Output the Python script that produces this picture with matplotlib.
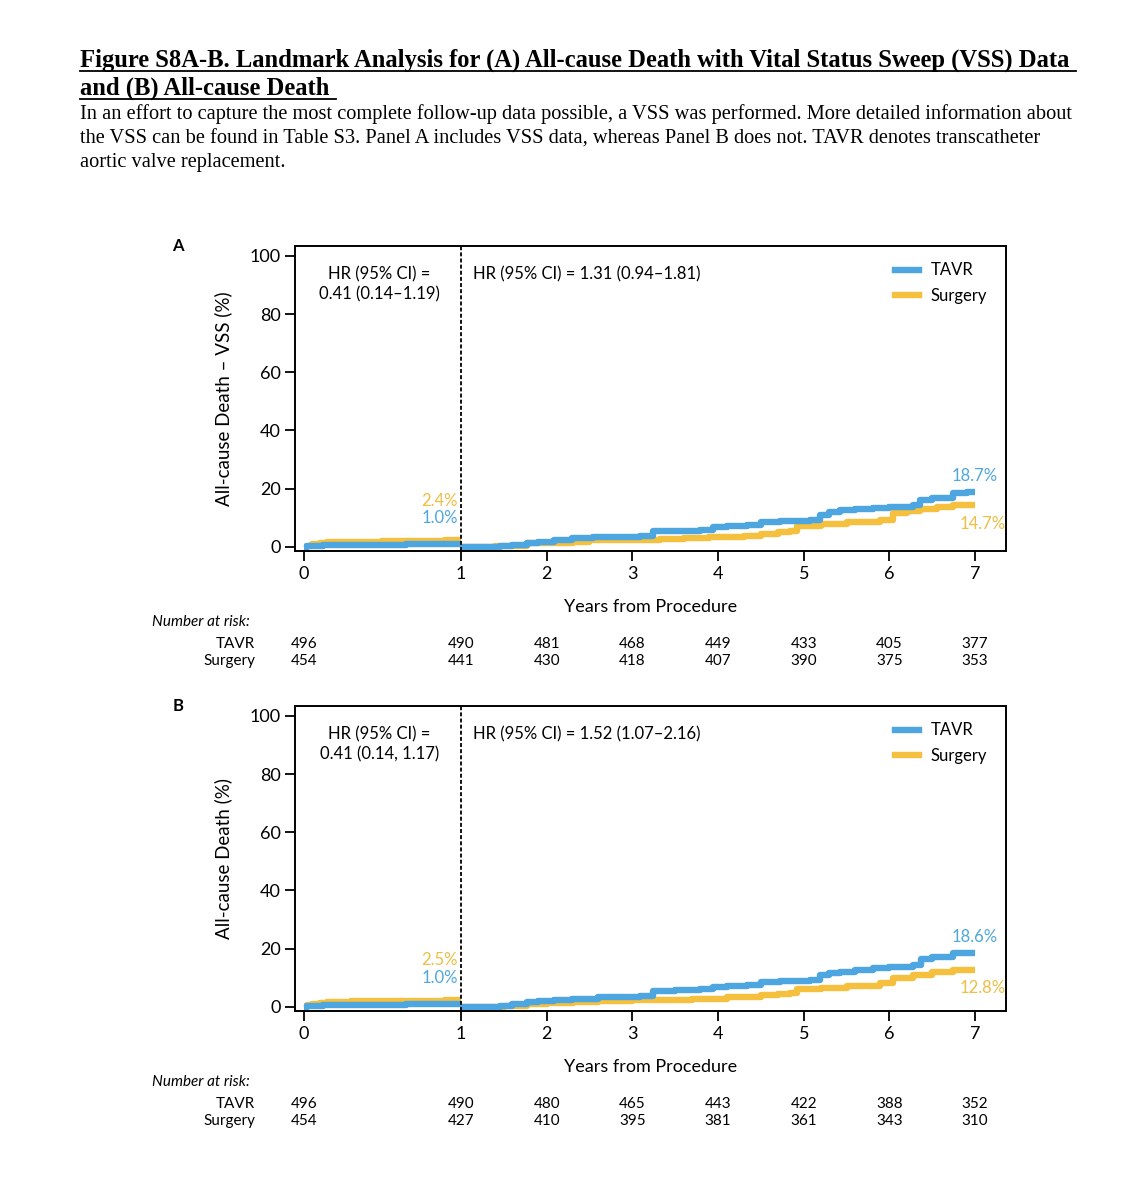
import numpy as np
import matplotlib
matplotlib.use("Agg")
import matplotlib.pyplot as plt
from matplotlib.lines import Line2D
import matplotlib.transforms as mtransforms

# ---------------- data ----------------
years = [0, 1, 2, 3, 4, 5, 6, 7]
yticks = [0, 20, 40, 60, 80, 100]

# Panel A (with VSS)
a_tavr_t1 = [0, 0.02, 0.05, 0.12, 0.25, 0.45, 0.65, 0.85, 0.95, 1.0]
a_tavr_y1 = [0, 0.2, 0.4, 0.5, 0.6, 0.7, 0.8, 0.9, 1.0, 1.0]
a_surg_t1 = [0, 0.02, 0.05, 0.1, 0.15, 0.3, 0.5, 0.7, 0.9, 0.97, 1.0]
a_surg_y1 = [0, 0.4, 0.9, 1.3, 1.6, 1.8, 1.9, 2.0, 2.2, 2.4, 2.4]
a_tavr_t2 = [1.0, 1.45, 1.6, 1.77, 1.9, 2.08, 2.3, 2.54, 2.8, 3.09, 3.24, 3.5, 3.79, 3.94, 4.1,
             4.34, 4.5, 4.72, 5.07, 5.19, 5.3, 5.42, 5.6, 5.81, 6.0, 6.27, 6.36, 6.5, 6.74, 6.9, 7.0]
a_tavr_y2 = [0, 0.3, 0.7, 1.2, 1.8, 2.4, 2.9, 3.3, 3.4, 3.6, 5.3, 5.5, 5.8, 6.8, 7.0,
             7.6, 8.5, 9.0, 9.3, 11.0, 11.8, 12.5, 13.0, 13.3, 13.8, 14.4, 16.1, 16.8, 18.5, 18.7, 18.7]
a_surg_t2 = [1.0, 1.4, 1.77, 2.0, 2.31, 2.5, 2.8, 3.32, 3.6, 3.9, 4.1, 4.3, 4.5, 4.7, 4.84,
             4.92, 5.2, 5.5, 5.89, 6.04, 6.2, 6.36, 6.55, 6.74, 7.0]
a_surg_y2 = [0, 0.3, 1.2, 1.4, 1.5, 2.2, 2.4, 2.6, 3.0, 3.3, 3.4, 3.6, 4.5, 5.0, 5.3,
             7.2, 7.8, 8.5, 9.3, 11.6, 12.2, 13.0, 13.8, 14.4, 14.5]

# Panel B (without VSS)
b_tavr_t1 = [0, 0.02, 0.05, 0.12, 0.25, 0.45, 0.65, 0.85, 0.95, 1.0]
b_tavr_y1 = [0, 0.2, 0.4, 0.5, 0.6, 0.7, 0.8, 0.9, 1.0, 1.0]
b_surg_t1 = [0, 0.02, 0.05, 0.1, 0.15, 0.3, 0.5, 0.7, 0.9, 0.97, 1.0]
b_surg_y1 = [0, 0.5, 1.0, 1.4, 1.7, 1.9, 2.0, 2.1, 2.3, 2.5, 2.5]
b_tavr_t2 = [1.0, 1.45, 1.6, 1.77, 1.9, 2.08, 2.3, 2.6, 2.85, 3.09, 3.24, 3.5, 3.79, 3.94, 4.1,
             4.34, 4.5, 4.72, 5.07, 5.19, 5.3, 5.42, 5.6, 5.81, 6.0, 6.27, 6.37, 6.5, 6.74, 6.9, 7.0]
b_tavr_y2 = [0, 0.3, 0.8, 1.5, 2.0, 2.4, 2.8, 3.3, 3.5, 3.8, 5.3, 5.6, 6.1, 6.8, 7.0,
             7.6, 8.4, 9.0, 9.3, 11.0, 11.6, 12.1, 12.8, 13.3, 13.8, 14.4, 16.4, 17.0, 18.4, 18.6, 18.6]
b_surg_t2 = [1.0, 1.5, 1.77, 2.0, 2.31, 2.6, 3.0, 3.32, 3.7, 4.1, 4.3, 4.5, 4.7, 4.84, 4.92,
             5.2, 5.5, 5.89, 6.04, 6.27, 6.5, 6.74, 7.0]
b_surg_y2 = [0, 0.3, 1.0, 1.3, 1.8, 2.0, 2.2, 2.4, 2.8, 3.3, 3.5, 4.1, 4.4, 4.7, 6.1,
             6.6, 7.2, 8.1, 9.9, 11.0, 11.8, 12.7, 12.8]

a_risk_tavr = [496, 490, 481, 468, 449, 433, 405, 377]
a_risk_surg = [454, 441, 430, 418, 407, 390, 375, 353]
b_risk_tavr = [496, 490, 480, 465, 443, 422, 388, 352]
b_risk_surg = [454, 427, 410, 395, 381, 361, 343, 310]

a_hr1 = "HR (95% CI) =\n0.41 (0.14–1.19)"
a_hr2 = "HR (95% CI) = 1.31 (0.94–1.81)"
b_hr1 = "HR (95% CI) =\n0.41 (0.14, 1.17)"
b_hr2 = "HR (95% CI) = 1.52 (1.07–2.16)"
a_lbl = ("2.4%", "1.0%", "18.7%", "14.7%")
b_lbl = ("2.5%", "1.0%", "18.6%", "12.8%")

title1 = "Figure S8A-B. Landmark Analysis for (A) All-cause Death with Vital Status Sweep (VSS) Data "
title2 = "and (B) All-cause Death "
body = ["In an effort to capture the most complete follow-up data possible, a VSS was performed. More detailed information about",
        "the VSS can be found in Table S3. Panel A includes VSS data, whereas Panel B does not. TAVR denotes transcatheter",
        "aortic valve replacement."]

BLUE = "#4DA6DF"
YELLOW = "#F4C03E"
BLUE_T = "#4FA7DC"
YELLOW_T = "#EEBE45"
SANS = ["Lato", "DejaVu Sans"]
SERIF = ["Liberation Serif", "DejaVu Serif"]

W, H = 1145, 1200
fig = plt.figure(figsize=(W / 100, H / 100), dpi=100)
fig.patch.set_facecolor("white")

K = 157.0 / 85.7


def fwd(x):
    x = np.asarray(x, dtype=float)
    return np.where(x < 1, x * K, K + (x - 1))


def inv(u):
    u = np.asarray(u, dtype=float)
    return np.where(u < K, u / K, 1 + (u - K))


def fy(py):
    return 1 - py / H


renderer = fig.canvas.get_renderer()


def fit_text(x, y, s, target_w, start, **kw):
    t = fig.text(x, y, s, fontsize=start, **kw)
    w = t.get_window_extent(renderer).width
    t.set_fontsize(start * target_w / w)
    return t


# ---------- title and caption ----------
t1 = fit_text(80 / W, fy(66.7), title1.rstrip(), 992, 15.5, family=SERIF,
              weight="bold", va="baseline", ha="left")
fs_title = t1.get_fontsize()
t1.set_text(title1)
t2 = fig.text(80 / W, fy(94.3), title2, fontsize=fs_title, family=SERIF,
              weight="bold", va="baseline", ha="left")
for t, uy in ((t1, 71), (t2, 99)):
    bb = t.get_window_extent(renderer)
    fig.add_artist(Line2D([bb.x0 / W, bb.x1 / W], [fy(uy), fy(uy)], color="black",
                          lw=1.3, transform=fig.transFigure))

b0 = fit_text(80 / W, fy(119.3), body[0], 993, 13.5, family=SERIF, va="baseline", ha="left")
fs_body = b0.get_fontsize()
for i, by in ((1, 143.3), (2, 166.7)):
    fig.text(80 / W, fy(by), body[i], fontsize=fs_body, family=SERIF, va="baseline", ha="left")


def panel(top_px, letter, ylabel, tv1, sv1, tv2, sv2, hr1, hr2, lbl, risk_t, risk_s):
    bot_px = top_px + 305
    ax = fig.add_axes([295 / W, fy(bot_px), (1006 - 295) / W, 305 / H])
    ax.set_xscale("function", functions=(fwd, inv))
    ax.set_xlim(-0.057, 7.36)
    ax.set_ylim(-1.45, 103.4)
    ax.set_xticks(years)
    ax.set_xticklabels([str(v) for v in years], family=SANS, fontsize=13)
    ax.set_yticks(yticks)
    ax.set_yticklabels([str(v) for v in yticks], family=SANS, fontsize=13)
    ax.tick_params(direction="out", length=7, width=1.3, pad=4)
    ax.tick_params(axis="y", pad=3)
    for sp in ax.spines.values():
        sp.set_linewidth(1.4)
    ax.set_ylabel(ylabel, family=SANS, fontsize=13.5, labelpad=13)
    ax.set_xlabel("Years from Procedure", family=SANS, fontsize=13, labelpad=12)

    ax.plot(sv1[0], sv1[1], drawstyle="steps-post", color=YELLOW, lw=4.6, solid_capstyle="butt")
    ax.plot(tv1[0], tv1[1], drawstyle="steps-post", color=BLUE, lw=4.6, solid_capstyle="butt")
    ax.plot(sv2[0], sv2[1], drawstyle="steps-post", color=YELLOW, lw=4.6, solid_capstyle="butt")
    ax.plot(tv2[0], tv2[1], drawstyle="steps-post", color=BLUE, lw=4.6, solid_capstyle="butt")
    ax.axvline(1, color="black", lw=1.3, ls=(0, (2.2, 1.2)))

    ax.text(0.48, 96.5, hr1, family=SANS, fontsize=12, ha="center", va="top", linespacing=1.35)
    ax.text(1.14, 96.5, hr2, family=SANS, fontsize=12, ha="left", va="top")

    ax.text(0.98, sv1[1][-1] + 13.5, lbl[0], family=SANS, fontsize=12, color=YELLOW_T, ha="right", va="center")
    ax.text(0.98, sv1[1][-1] + 7.5, lbl[1], family=SANS, fontsize=12, color=BLUE_T, ha="right", va="center")

    ax.text(7.0, tv2[1][-1] + 5.5, lbl[2], family=SANS, fontsize=12, color=BLUE_T, ha="center", va="center")
    ax.text(7.36, sv2[1][-1] - 6.5, lbl[3], family=SANS, fontsize=12, color=YELLOW_T, ha="right", va="center", clip_on=False)

    ax.legend([Line2D([], [], color=BLUE, lw=4.6), Line2D([], [], color=YELLOW, lw=4.6)],
              ["TAVR", "Surgery"], loc="upper right", frameon=False,
              prop={"family": SANS, "size": 12}, handlelength=1.4, handletextpad=0.7,
              labelspacing=0.55, borderaxespad=0.4, bbox_to_anchor=(0.992, 0.99))

    fig.text(178 / W, fy(top_px), letter, family=SANS, fontsize=12, weight="bold", ha="center", va="center")

    # number at risk table
    tr = mtransforms.blended_transform_factory(ax.transData, fig.transFigure)
    base = bot_px + 71
    fig.text(152 / W, fy(base), "Number at risk:", family=SANS, style="italic", fontsize=11, ha="left", va="center")
    fig.text(255 / W, fy(base + 22), "TAVR", family=SANS, fontsize=11, ha="right", va="center")
    fig.text(255 / W, fy(base + 39), "Surgery", family=SANS, fontsize=11, ha="right", va="center")
    for x, a, b in zip(years, risk_t, risk_s):
        ax.text(x, fy(base + 22), str(a), transform=tr, family=SANS, fontsize=11, ha="center", va="center")
        ax.text(x, fy(base + 39), str(b), transform=tr, family=SANS, fontsize=11, ha="center", va="center")
    return ax


panel(246, "A", "All-cause Death – VSS (%)",
      (a_tavr_t1, a_tavr_y1), (a_surg_t1, a_surg_y1), (a_tavr_t2, a_tavr_y2), (a_surg_t2, a_surg_y2),
      a_hr1, a_hr2, a_lbl, a_risk_tavr, a_risk_surg)
panel(706, "B", "All-cause Death (%)",
      (b_tavr_t1, b_tavr_y1), (b_surg_t1, b_surg_y1), (b_tavr_t2, b_tavr_y2), (b_surg_t2, b_surg_y2),
      b_hr1, b_hr2, b_lbl, b_risk_tavr, b_risk_surg)

fig.savefig("out.png", dpi=100, facecolor="white")
